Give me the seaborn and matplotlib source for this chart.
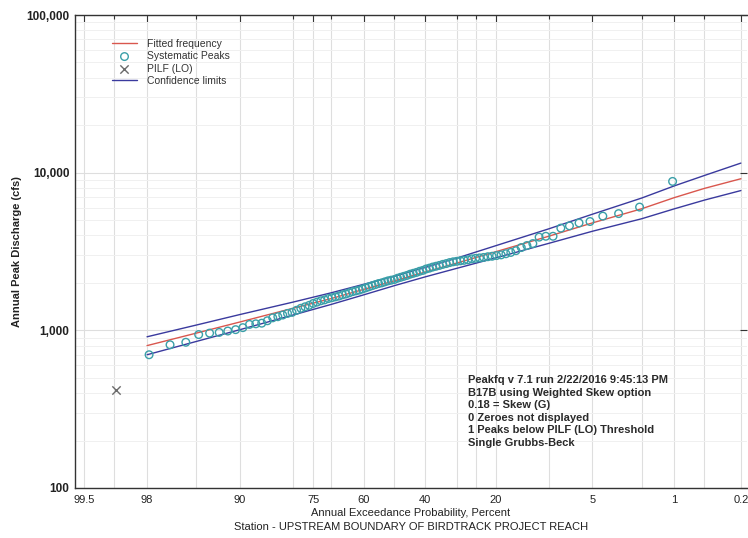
import numpy as np
import pandas as pd
import seaborn as sns
import matplotlib.pyplot as plt
from statistics import NormalDist
from matplotlib.ticker import FixedLocator, FuncFormatter, LogLocator, NullFormatter

# Valores (descarga anual de pico, cfs), do maior para o menor
picos = [8800, 6050, 5500, 5300, 4900, 4800, 4600, 4450, 3950, 3950,
         3900, 3550, 3450, 3350, 3200, 3120, 3060, 3010, 2980, 2950,
         2930, 2900, 2880, 2860, 2840, 2800, 2780, 2760, 2740, 2720,
         2690, 2650, 2620, 2580, 2550, 2520, 2480, 2450, 2400, 2370,
         2330, 2300, 2270, 2230, 2200, 2170, 2140, 2100, 2080, 2060,
         2030, 2000, 1980, 1950, 1920, 1890, 1860, 1830, 1800, 1780,
         1760, 1730, 1700, 1680, 1650, 1630, 1610, 1590, 1560, 1540,
         1510, 1480, 1440, 1410, 1380, 1340, 1300, 1280, 1250, 1220,
         1200, 1150, 1110, 1100, 1090, 1040, 1010, 990, 970, 960,
         940, 840, 810, 700]
pilf = [420]

# Curva ajustada e limites de confianca
aep_curva = [98, 95, 90, 80, 70, 60, 50, 40, 30, 20, 10, 5, 2, 1, 0.5, 0.2]
ajustada = [800, 960, 1130, 1380, 1590, 1820, 2060, 2340, 2680, 3150,
            3950, 4800, 5900, 6950, 7950, 9150]
limite_sup = [910, 1080, 1260, 1510, 1730, 1960, 2200, 2500, 2880, 3440,
              4400, 5450, 6900, 8250, 9600, 11500]
limite_inf = [700, 850, 1010, 1250, 1460, 1680, 1920, 2180, 2480, 2880,
              3560, 4250, 5100, 5900, 6700, 7700]

ticks_rotulo = [99.5, 98, 90, 75, 60, 40, 20, 5, 1, 0.2]
ticks_menor = [99, 95, 80, 70, 50, 30, 25, 10, 2, 0.5]

info = ["Peakfq v 7.1 run 2/22/2016 9:45:13 PM",
        "B17B using Weighted Skew option",
        "0.18 = Skew (G)",
        "0 Zeroes not displayed",
        "1 Peaks below PILF (LO) Threshold",
        "Single Grubbs-Beck"]

# Posicao de plotagem de Weibull: rank / (n + 1)
n = len(picos) + len(pilf)
df_picos = pd.DataFrame({"aep": [100 * (i + 1) / (n + 1) for i in range(len(picos))],
                         "Q": picos})
df_pilf = pd.DataFrame({"aep": [100 * n / (n + 1)], "Q": pilf})
df_curva = pd.DataFrame({"aep": aep_curva, "ajustada": ajustada,
                         "sup": limite_sup, "inf": limite_inf})

# Escala de probabilidade normal
_nd = NormalDist()
_inv_cdf = np.vectorize(_nd.inv_cdf, otypes=[float])
_cdf = np.vectorize(_nd.cdf, otypes=[float])


def fwd(p):
    p = np.clip(np.asarray(p, dtype=float), 1e-6, 100 - 1e-6)
    return _inv_cdf(p / 100.0)


def inv(z):
    return _cdf(np.asarray(z, dtype=float)) * 100.0


sns.set_style("white")
plt.rcParams["font.family"] = ["Liberation Sans", "DejaVu Sans"]

fig = plt.figure(figsize=(7.48, 5.38), dpi=100)
ax = fig.add_axes([75 / 748, 1 - 488 / 538, 672 / 748, 473 / 538])
ax.set_xscale("function", functions=(fwd, inv))
ax.set_yscale("log")

vermelho = "#d9574e"
azul = "#3a3a9e"
ciano = "#3a9fa8"

sns.lineplot(data=df_curva, x="aep", y="ajustada", color=vermelho, lw=1,
             label="Fitted frequency", ax=ax)
sns.scatterplot(data=df_picos, x="aep", y="Q", facecolor="none", edgecolor=ciano,
                marker="o", s=30, linewidth=1, label="Systematic Peaks", ax=ax, zorder=3)
sns.scatterplot(data=df_pilf, x="aep", y="Q", color="#6a6a6a", marker="x",
                s=36, linewidth=1, label="PILF (LO)", ax=ax, zorder=3)
sns.lineplot(data=df_curva, x="aep", y="sup", color=azul, lw=1,
             label="Confidence limits", ax=ax)
sns.lineplot(data=df_curva, x="aep", y="inf", color=azul, lw=1,
             label="_nolegend_", ax=ax)

ax.set_xlim(99.6, 0.17)
ax.set_ylim(100, 100000)

ax.xaxis.set_major_locator(FixedLocator(ticks_rotulo))
ax.xaxis.set_minor_locator(FixedLocator(ticks_menor))
ax.xaxis.set_major_formatter(FuncFormatter(lambda v, pos: f"{v:g}"))
ax.xaxis.set_minor_formatter(NullFormatter())
ax.yaxis.set_major_locator(LogLocator(base=10))
ax.yaxis.set_minor_locator(LogLocator(base=10, subs=np.arange(2, 10)))
ax.yaxis.set_major_formatter(FuncFormatter(lambda v, pos: f"{v:,.0f}"))
ax.yaxis.set_minor_formatter(NullFormatter())

ax.grid(True, which="both", axis="x", color="#dedede", lw=0.8)
ax.grid(True, which="major", axis="y", color="#dedede", lw=0.8)
ax.grid(True, which="minor", axis="y", color="#f0f0f0", lw=0.7)
ax.set_axisbelow(True)

ax.tick_params(axis="both", which="both", direction="in", top=True, right=True,
               color="#333333")
ax.tick_params(axis="y", which="minor", right=False)
ax.tick_params(axis="both", which="major", length=5, width=0.8)
ax.tick_params(axis="both", which="minor", length=3, width=0.8)
ax.tick_params(axis="x", labelsize=8, pad=5, labelcolor="#222222")
ax.tick_params(axis="y", labelsize=8.5, pad=4, labelcolor="#222222")
for lb in ax.get_yticklabels():
    lb.set_fontweight("bold")

for lado in ["left", "bottom", "top"]:
    ax.spines[lado].set_color("#333333")
    ax.spines[lado].set_linewidth(1)
ax.spines["right"].set_visible(False)

ax.set_xlabel("")
ax.set_ylabel("")
fig.text(17 / 748, 1 - 252 / 538, "Annual Peak Discharge (cfs)", rotation=90,
         ha="center", va="center", fontsize=8, fontweight="bold", color="#222222")
fig.text(411 / 748, 1 - 513 / 538, "Annual Exceedance Probability, Percent",
         ha="center", va="center", fontsize=8, color="#222222")
fig.text(411 / 748, 1 - 527 / 538, "Station - UPSTREAM BOUNDARY OF BIRDTRACK PROJECT REACH",
         ha="center", va="center", fontsize=8, color="#222222")

for i, linha in enumerate(info):
    fig.text(468 / 748, 1 - (380 + 12.6 * i) / 538, linha, ha="left", va="center",
             fontsize=8, fontweight="bold", color="#2a2a2a")

handles, labels = ax.get_legend_handles_labels()
ax.legend(handles, labels, loc="upper left", frameon=False, fontsize=7.5,
          bbox_to_anchor=(112 / 748, 1 - 39 / 538), bbox_transform=fig.transFigure,
          borderpad=0, borderaxespad=0, labelspacing=0.22, handlelength=2.4,
          handletextpad=1.0, labelcolor="#333333")

fig.savefig("out.png", dpi=100)
